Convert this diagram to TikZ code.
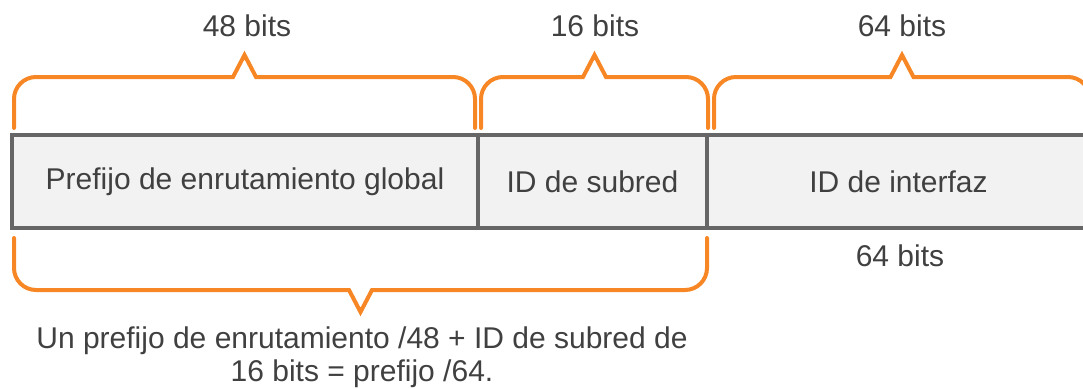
\documentclass[tikz,border=0pt]{standalone}
\usepackage{fontspec}
\setmainfont{Liberation Sans}
\usetikzlibrary{positioning}

\definecolor{bracecol}{RGB}{247,134,36}
\definecolor{framecol}{RGB}{102,102,102}
\definecolor{cellcol}{RGB}{242,242,242}
\definecolor{textcol}{RGB}{64,64,64}

% orange bracket over a field, notch pointing up
\newcommand{\bracketup}[2]{%
  \draw[brace] (#1,130) -- (#1,144.5) arc[start angle=180,end angle=90,radius=11]
    -- ({(#1+#2)/2-5.75},155.5) -- ({(#1+#2)/2},166.5) -- ({(#1+#2)/2+5.75},155.5)
    -- ({#2-11},155.5) arc[start angle=90,end angle=0,radius=11] -- (#2,130);}

\begin{document}
\begin{tikzpicture}[x=1pt,y=1pt,
	font=\fontsize{15}{16.5}\selectfont,text=textcol,
	field/.style={draw=framecol,fill=cellcol,line width=2.2pt,outer sep=0pt,
		minimum height=46.5pt,inner sep=0pt},
	brace/.style={draw=bracecol,line width=2pt,line cap=round,line join=miter},
	label/.style={inner sep=0pt}]
\useasboundingbox (0,0) rectangle (541.5,194);

% the three fields of the address
\node[field,minimum width=233pt,anchor=south west] (global) at (6,80) {Prefijo de enrutamiento global};
\node[field,minimum width=114.5pt,right=0pt of global] (subred) {ID de subred};
\node[field,minimum width=191.5pt,right=0pt of subred] (iface) {ID de interfaz};

% brackets on top
\bracketup{7}{237.5}
\bracketup{240.5}{354}
\bracketup{357}{545}
\node[label] (b48) at (123.5,181) {48 bits};
\node[label] (b16) at (297.5,181) {16 bits};
\node[label] (b64) at (451,181) {64 bits};

% bracket underneath prefix + subnet
\draw[brace] (7,75) -- (7,60) arc[start angle=180,end angle=270,radius=11]
	-- (174.5,49) -- (180.25,38) -- (186,49)
	-- (342.5,49) arc[start angle=270,end angle=360,radius=11] -- (353.5,75);
\node[label] (low64) at (450,66) {64 bits};
\node[label,align=center] (note) at (181,15.5) {Un prefijo de enrutamiento /48 + ID de subred de\\16 bits = prefijo /64.};
\end{tikzpicture}
\end{document}
